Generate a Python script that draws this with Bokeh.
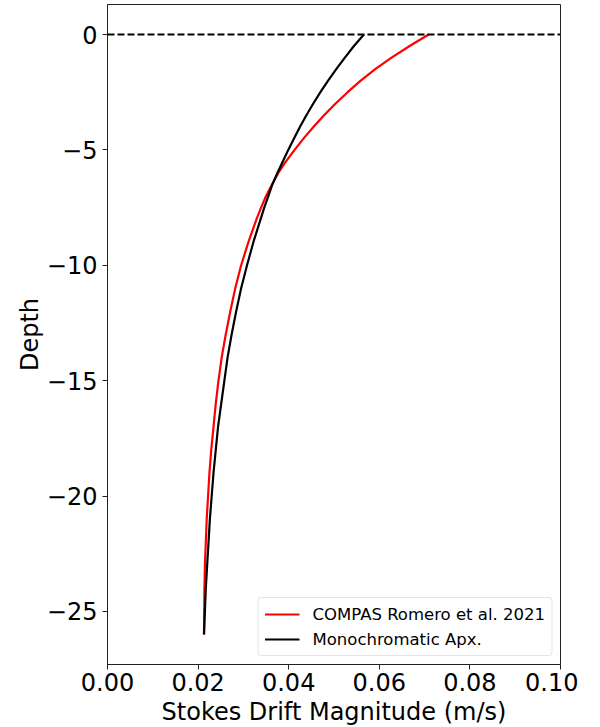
from bokeh.plotting import figure
from bokeh.models import Span, FixedTicker, Legend, LegendItem
from bokeh.embed import file_html
from bokeh.resources import INLINE

# Depth levels (m)
depth = [0.0, -0.5, -1.0, -1.5, -2.0, -2.5, -3.0, -3.5, -4.0, -4.5, -5.0, -5.5,
         -6.0, -6.5, -7.0, -7.5, -8.0, -9.0, -10.0, -11.0, -12.0, -13.0, -14.0,
         -15.0, -16.0, -17.0, -18.0, -19.0, -20.0, -21.0, -22.0, -23.0, -24.0,
         -25.0, -26.0]

# Stokes drift magnitude (m/s), spectral COMPAS profile
compas = [0.0709, 0.0667, 0.0627, 0.0591, 0.0559, 0.0530, 0.0503, 0.0478, 0.0455,
          0.0433, 0.0413, 0.0394, 0.0377, 0.0363, 0.0350, 0.0339, 0.0329, 0.0311,
          0.0295, 0.0282, 0.0271, 0.0261, 0.0252, 0.0245, 0.0239, 0.0234, 0.0229,
          0.0225, 0.0222, 0.0219, 0.0217, 0.0215, 0.0214, 0.02135, 0.0213]

# Stokes drift magnitude (m/s), monochromatic approximation
mono = [0.0566, 0.0544, 0.0524, 0.0505, 0.0487, 0.0470, 0.0454, 0.0439, 0.0425,
        0.0412, 0.0399, 0.0387, 0.0375, 0.0364, 0.0355, 0.0346, 0.0338, 0.0322,
        0.0308, 0.0295, 0.0284, 0.0274, 0.0265, 0.0258, 0.0251, 0.0244, 0.0239,
        0.0234, 0.0230, 0.0226, 0.0223, 0.0220, 0.0217, 0.0215, 0.0213]

x_ticks = [0.0, 0.02, 0.04, 0.06, 0.08, 0.10]
x_tick_labels = ["0.00", "0.02", "0.04", "0.06", "0.08", "0.10"]
y_ticks = [-25, -20, -15, -10, -5, 0]
y_tick_labels = ["\u221225", "\u221220", "\u221215", "\u221210", "\u22125", "0"]

FONT = "DejaVu Sans"

p = figure(width=578, height=727, x_range=(0.0, 0.10), y_range=(-27.3, 1.3),
           output_backend="svg", toolbar_location=None,
           min_border_left=107, min_border_right=18, min_border_top=4, min_border_bottom=63)
p.frame_width = 453
p.frame_height = 660

p.grid.visible = False
p.outline_line_color = "#222222"
p.outline_line_width = 1
p.background_fill_color = "white"
p.border_fill_color = "white"

r1 = p.line(compas, depth, line_color="red", line_width=2.2)
r2 = p.line(mono, depth, line_color="black", line_width=2.2)

# sea surface reference
p.add_layout(Span(location=0, dimension="width", line_color="black",
                  line_width=2, line_dash="7 3"))

p.xaxis.ticker = FixedTicker(ticks=x_ticks)
p.xaxis.major_label_overrides = {t: s for t, s in zip(x_ticks, x_tick_labels)}
p.yaxis.ticker = FixedTicker(ticks=y_ticks)
p.yaxis.major_label_overrides = {t: s for t, s in zip(y_ticks, y_tick_labels)}

for ax in (p.xaxis[0], p.yaxis[0]):
    ax.major_label_text_font = FONT
    ax.major_label_text_font_size = "24px"
    ax.major_label_text_color = "black"
    ax.axis_label_text_font = FONT
    ax.axis_label_text_font_size = "24px"
    ax.axis_label_text_font_style = "normal"
    ax.axis_label_text_color = "black"
    ax.minor_tick_line_color = None
    ax.major_tick_in = 0
    ax.major_tick_out = 5
    ax.major_tick_line_color = "#222222"
    ax.axis_line_color = "#222222"

p.xaxis.axis_label = "Stokes Drift Magnitude (m/s)"
p.xaxis.major_label_standoff = 3
p.xaxis.axis_label_standoff = 4
p.yaxis.axis_label = "Depth"
p.yaxis.major_label_standoff = 5
p.yaxis.axis_label_standoff = 0

legend = Legend(items=[LegendItem(label="COMPAS Romero et al. 2021", renderers=[r1]),
                       LegendItem(label="Monochromatic Apx.", renderers=[r2])],
                location="bottom_right")
legend.label_text_font = FONT
legend.label_text_font_size = "16.5px"
legend.label_text_color = "black"
legend.glyph_width = 35
legend.glyph_height = 20
legend.label_height = 20
legend.label_standoff = 13
legend.spacing = 5
legend.padding = 6
legend.margin = 8
legend.border_line_color = "#cccccc"
legend.border_radius = 4
legend.background_fill_alpha = 0.8
p.add_layout(legend)

open("out.html", "w").write(file_html(p, INLINE))
